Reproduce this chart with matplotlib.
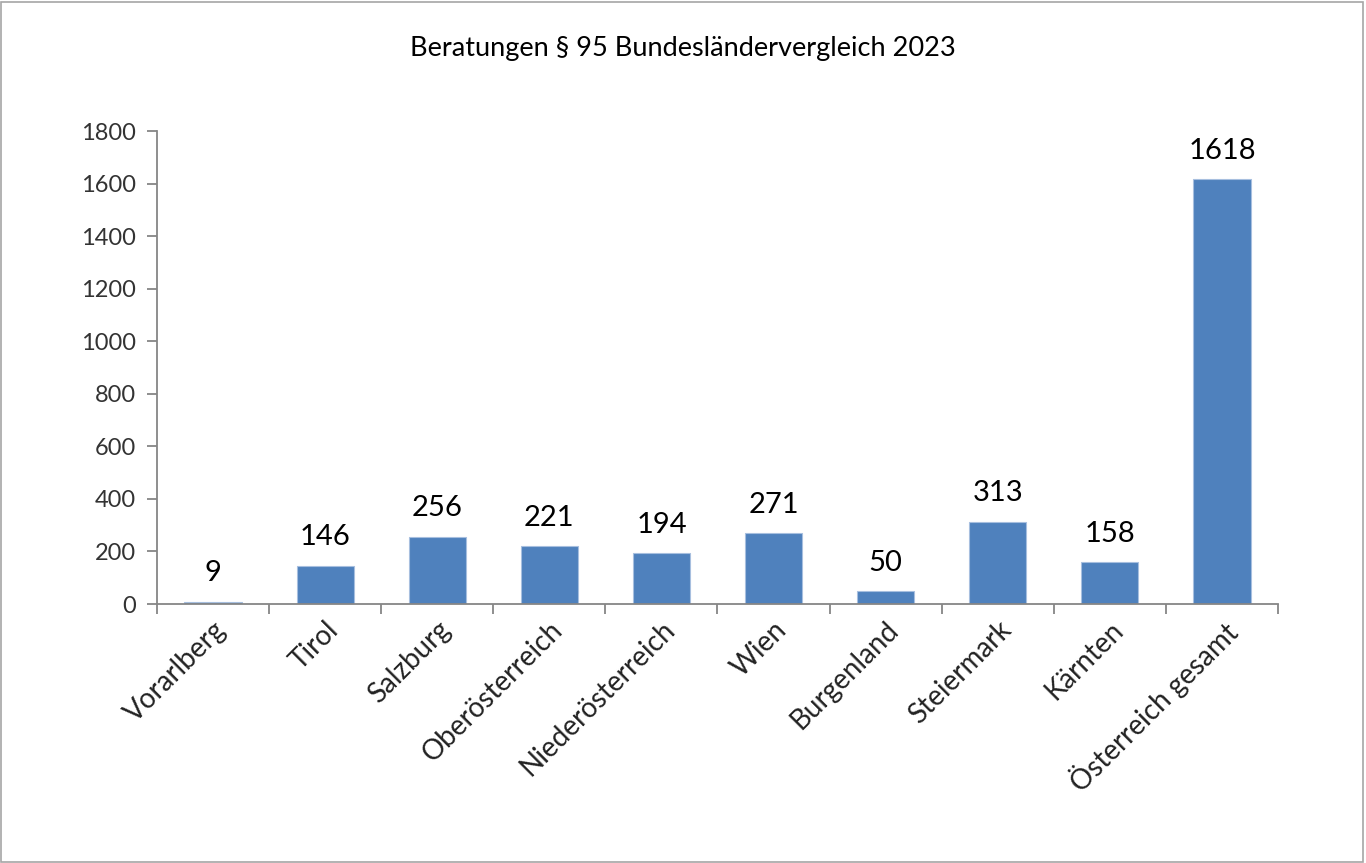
import matplotlib.pyplot as plt
import numpy as np
from matplotlib.patches import Rectangle

plt.rcParams['font.family'] = ['Lato', 'DejaVu Sans']

regions = ["Vorarlberg", "Tirol", "Salzburg", "Oberösterreich", "Niederösterreich",
           "Wien", "Burgenland", "Steiermark", "Kärnten", "Österreich gesamt"]
counts = [9, 146, 256, 221, 194, 271, 50, 313, 158, 1618]
yticks = [0, 200, 400, 600, 800, 1000, 1200, 1400, 1600, 1800]

fig = plt.figure(figsize=(13.66, 8.63), dpi=100)
# thin frame round the whole chart area
fig.patches.append(Rectangle((0.001, 0.001), 0.997, 0.997, transform=fig.transFigure,
                             fill=False, edgecolor='#a6a6a6', linewidth=1.2))
ax = fig.add_axes([0.1149, 0.3001, 0.8207, 0.5481])

x = np.arange(len(regions))
bars = ax.bar(x, counts, width=0.51, color='#4f81bd', edgecolor='#a7bfdf', linewidth=0.8, zorder=2)

for xi, v in zip(x, counts):
    ax.annotate(str(v), (xi, v), xytext=(0, 11), textcoords='offset points',
                ha='center', va='bottom', fontsize=21, color='black')

ax.set_xlim(-0.5, len(regions) - 0.5)
ax.set_ylim(0, 1800)
ax.set_yticks(yticks)
ax.tick_params(axis='y', labelsize=17, labelcolor='#333333', length=7, width=1.3,
               color='#868686', pad=8)

# category labels at bar centres, tick marks at the boundaries
ax.set_xticks(x)
ax.set_xticklabels(regions, rotation=45, ha='right', rotation_mode='anchor',
                   fontsize=20, color='#222222')
ax.tick_params(axis='x', which='major', length=0, pad=9)
ax.set_xticks(np.arange(len(regions) + 1) - 0.5, minor=True)
ax.tick_params(axis='x', which='minor', length=7, width=1.3, color='#868686')

for side in ['top', 'right']:
    ax.spines[side].set_visible(False)
for side in ['left', 'bottom']:
    ax.spines[side].set_color('#868686')
    ax.spines[side].set_linewidth(1.3)

fig.text(0.5, 0.944, "Beratungen § 95 Bundesländervergleich 2023", ha='center', va='center',
         fontsize=19.5, color='black')

fig.savefig('out.png', dpi=100)
